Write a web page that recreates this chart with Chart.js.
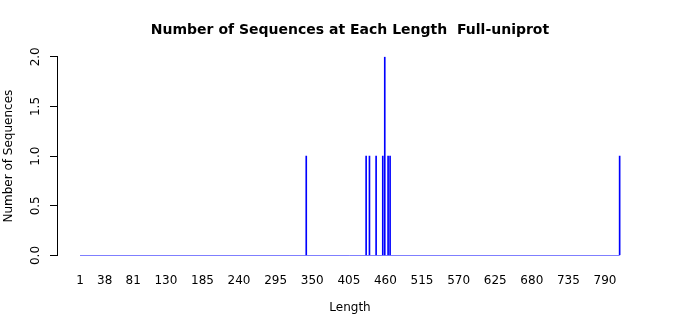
<!DOCTYPE html>
<html>
<head>
<meta charset="utf-8">
<script src="https://cdn.jsdelivr.net/npm/chart.js@4/dist/chart.umd.min.js"></script>
<style>
  html, body { margin: 0; padding: 0; background: #fff; }
</style>
</head>
<body>
<canvas id="lenChart" width="700" height="315"></canvas>
<script>
// lengths tabulated (first and last category)
const lengthRange = [1, 812];
// lengths that have sequences, and how many
const lengths = [341, 431, 436, 446, 456, 459, 464, 467, 812];
const counts = [1, 1, 1, 1, 1, 2, 1, 1, 1];
// x labels that R kept after skipping overlaps
const tickLabels = [1, 38, 81, 130, 185, 240, 295, 350, 405, 460, 515, 570, 625, 680, 735, 790];
const yTicks = [0, 0.5, 1, 1.5, 2];

const fontFamily = "'DejaVu Sans', sans-serif";
const blue = '#0000ff';

// y tick labels are rotated in the original, draw them by hand
const rotatedYLabels = {
    id: 'rotatedYLabels',
    afterDraw(chart) {
        const ctx = chart.ctx;
        const yScale = chart.scales.y;
        ctx.save();
        ctx.font = '12px ' + fontFamily;
        ctx.fillStyle = '#000';
        ctx.textAlign = 'center';
        ctx.textBaseline = 'middle';
        yScale.ticks.forEach(t => {
            const y = yScale.getPixelForValue(t.value);
            ctx.save();
            ctx.translate(36, y);
            ctx.rotate(-Math.PI / 2);
            ctx.fillText(t.value.toFixed(1), 0, 0);
            ctx.restore();
        });
        ctx.restore();
    }
};

const ctx = document.getElementById('lenChart').getContext('2d');
const chart = new Chart(ctx, {
    type: 'bar',
    data: {
        datasets: [
            {
                type: 'bar',
                label: 'Count',
                data: lengths.map((l, i) => ({ x: l, y: counts[i] })),
                backgroundColor: blue,
                borderColor: blue,
                borderWidth: 0,
                barThickness: 1,
                order: 1
            },
            {
                // zero-height bars show as a line along the base
                type: 'line',
                label: 'base',
                data: lengthRange.map(l => ({ x: l, y: 0 })),
                borderColor: blue,
                borderWidth: 1,
                pointRadius: 0,
                order: 2
            }
        ]
    },
    options: {
        responsive: false,
        animation: false,
        devicePixelRatio: 1,
        layout: { padding: 0 },
        plugins: {
            legend: { display: false },
            tooltip: { enabled: false },
            title: {
                display: true,
                text: 'Number of Sequences at Each Length  Full-uniprot',
                color: '#000',
                font: { family: fontFamily, size: 14, weight: 'bold' },
                padding: { top: 22, bottom: 18 }
            }
        },
        scales: {
            x: {
                type: 'linear',
                offset: false,
                min: -33.6,
                max: 847.1,
                grid: { display: false },
                border: { display: false },
                afterBuildTicks: scale => {
                    scale.ticks = tickLabels.map(v => ({ value: v }));
                },
                afterFit: scale => { scale.height = 59.5; },
                ticks: {
                    autoSkip: false,
                    maxRotation: 0,
                    minRotation: 0,
                    padding: 10,
                    color: '#000',
                    font: { family: fontFamily, size: 12 },
                    callback: v => String(v)
                },
                title: {
                    display: true,
                    text: 'Length',
                    color: '#000',
                    font: { family: fontFamily, size: 12 },
                    padding: { top: 0, bottom: 0 }
                }
            },
            y: {
                min: 0,
                max: 2,
                afterBuildTicks: scale => {
                    scale.ticks = yTicks.map(v => ({ value: v }));
                },
                afterFit: scale => { scale.width = 57; },
                grid: {
                    drawOnChartArea: false,
                    drawTicks: true,
                    tickLength: 7,
                    color: '#000'
                },
                border: { display: true, color: '#000', width: 1 },
                ticks: { display: false },
                title: {
                    display: true,
                    text: 'Number of Sequences',
                    color: '#000',
                    font: { family: fontFamily, size: 12 },
                    padding: { top: 2, bottom: 0 }
                }
            },
            // empty right margin so the title stays centred on the page
            margin: {
                type: 'linear',
                position: 'right',
                grid: { display: false },
                border: { display: false },
                ticks: { display: false },
                afterFit: scale => { scale.width = 57; }
            }
        }
    },
    plugins: [rotatedYLabels]
});
</script>
</body>
</html>
